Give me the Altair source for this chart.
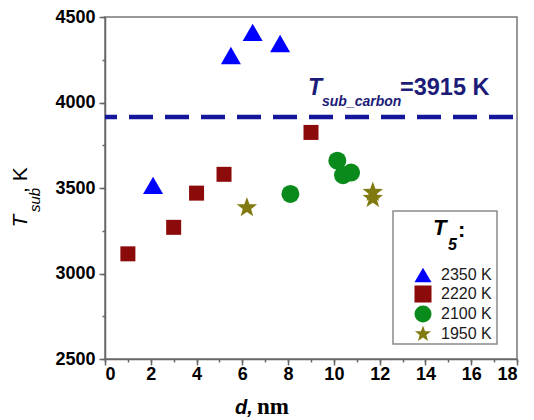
import altair as alt
import pandas as pd

# ---- data ----
series = ["2350 K", "2220 K", "2100 K", "1950 K"]
d_2350 = [2.1, 5.5, 6.45, 7.65]
T_2350 = [3515, 4275, 4410, 4345]
d_2220 = [1.0, 3.0, 4.0, 5.2, 9.0]
T_2220 = [3115, 3270, 3470, 3580, 3825]
d_2100 = [8.1, 10.15, 10.4, 10.75]
T_2100 = [3465, 3660, 3575, 3590]
d_1950 = [6.2, 11.7, 11.7]
T_1950 = [3385, 3475, 3440]
carbon_T = [3915]

x_ticks = [0, 2, 4, 6, 8, 10, 12, 14, 16, 18]
x_minor = list(range(0, 19))
y_ticks = [2500, 3000, 3500, 4000, 4500]
y_minor = [2500, 2750, 3000, 3250, 3500, 3750, 4000, 4250, 4500]

STAR = ("M0,-1L0.24,-0.33L0.951,-0.309L0.39,0.13L0.588,0.809L0,0.41"
        "L-0.588,0.809L-0.39,0.13L-0.951,-0.309L-0.24,-0.33Z")
colors = ["#0000ff", "#8b0a0a", "#0a8a1a", "#807a10"]
shapes = ["triangle-up", "square", "circle", STAR]
sizes = [400, 225, 324, 460]

annot_T = ["T"]
annot_sub = ["sub_carbon"]
annot_val = ["=3915 K"]
ytitle_parts = ["T", "sub", ", K"]
xtitle_parts = ["d,", "nm"]
legend_title_parts = ["T", "5", ":"]

rows = []
for name, ds, ts in [("2350 K", d_2350, T_2350), ("2220 K", d_2220, T_2220),
                     ("2100 K", d_2100, T_2100), ("1950 K", d_1950, T_1950)]:
    for d, t in zip(ds, ts):
        rows.append({"d": d, "T": t, "series": name})
df = pd.DataFrame(rows)
df["sz"] = df["series"].map(dict(zip(series, sizes)))

xscale = alt.Scale(domain=[0, 18], nice=False, zero=False)
yscale = alt.Scale(domain=[2500, 4500], nice=False, zero=False)

legend = alt.Legend(title=None, orient="none", legendX=309, legendY=249,
                    labelFontSize=16, labelFont="Liberation Sans", labelFontWeight="normal",
                    labelColor="#1a1a1a", symbolSize=290, rowPadding=2, padding=0,
                    symbolStrokeWidth=0, labelOffset=9)

points = alt.Chart(df).mark_point(filled=True, opacity=1, strokeWidth=0).encode(
    x=alt.X("d:Q", scale=xscale,
            axis=alt.Axis(values=x_ticks, title=None, orient="bottom", tickSize=6,
                          labelPadding=0, format="d")),
    y=alt.Y("T:Q", scale=yscale,
            axis=alt.Axis(values=y_ticks, title=None, orient="left", tickSize=6,
                          labelPadding=4, format="d")),
    color=alt.Color("series:N", scale=alt.Scale(domain=series, range=colors), legend=legend),
    shape=alt.Shape("series:N", scale=alt.Scale(domain=series, range=shapes), legend=legend),
    size=alt.Size("sz:Q", scale=None, legend=None),
)

minor = alt.Chart(df).mark_point(opacity=0).encode(
    x=alt.X("d:Q", scale=xscale,
            axis=alt.Axis(values=x_minor, title=None, orient="bottom", labels=False,
                          domain=False, tickSize=3)),
    y=alt.Y("T:Q", scale=yscale,
            axis=alt.Axis(values=y_minor, title=None, orient="left", labels=False,
                          domain=False, tickSize=3)),
)

rule = alt.Chart(pd.DataFrame({"T": carbon_T})).mark_rule(
    color="#16169a", strokeWidth=4.5, strokeDash=[24, 12], strokeDashOffset=-4
).encode(y=alt.Y("T:Q", scale=yscale, axis=None))


def txt(s, x, y, **kw):
    return alt.Chart(pd.DataFrame({"t": [s]})).mark_text(**kw).encode(
        text="t:N", x=alt.value(x), y=alt.value(y))


navy = "#1c1c78"
annot = [
    txt(annot_T[0], 203, 78, font="Liberation Sans", fontSize=23, fontWeight="bold",
        fontStyle="italic", color=navy, align="left", baseline="alphabetic"),
    txt(annot_sub[0], 217, 89, font="Liberation Sans", fontSize=14, fontWeight="bold",
        fontStyle="italic", color=navy, align="left", baseline="alphabetic"),
    txt(annot_val[0], 295, 78, font="Liberation Sans", fontSize=23.5, fontWeight="bold",
        color=navy, align="left", baseline="alphabetic"),
]

ytitle = [
    txt(ytitle_parts[0], -78, 204, font="Liberation Sans", fontSize=21, fontStyle="italic",
        color="black", align="center", baseline="alphabetic", angle=270),
    txt(ytitle_parts[1], -65, 183, font="Liberation Sans", fontSize=15, fontStyle="italic",
        color="black", align="center", baseline="alphabetic", angle=270),
    txt(ytitle_parts[2], -78, 176, font="Liberation Sans", fontSize=21,
        color="black", align="left", baseline="alphabetic", angle=270),
]

xtitle = [
    txt(xtitle_parts[0], 130, 397, font="Liberation Sans", fontSize=20, fontStyle="italic",
        fontWeight="bold", color="black", align="left", baseline="alphabetic"),
    txt(xtitle_parts[1], 152, 397, font="Liberation Serif", fontSize=23,
        fontWeight="bold", color="black", align="left", baseline="alphabetic"),
]

box = alt.Chart(pd.DataFrame({"b": [0]})).mark_rect(
    fill="white", fillOpacity=0, stroke="#8a8a8a", strokeWidth=1.5
).encode(x=alt.value(288), x2=alt.value(392), y=alt.value(194), y2=alt.value(327))

ltitle = [
    txt(legend_title_parts[0], 328, 218, font="Liberation Sans", fontSize=22, fontWeight="bold",
        fontStyle="italic", color="black", align="left", baseline="alphabetic"),
    txt(legend_title_parts[1], 343, 233, font="Liberation Sans", fontSize=16, fontWeight="bold",
        fontStyle="italic", color="black", align="left", baseline="alphabetic"),
    txt(legend_title_parts[2], 353, 220, font="Liberation Sans", fontSize=22, fontWeight="bold",
        color="black", align="left", baseline="alphabetic"),
]

chart = alt.layer(points, minor, rule, box, *annot, *ytitle, *xtitle, *ltitle).resolve_axis(
    x="independent", y="independent"
).properties(
    width=412, height=342,
    autosize=alt.AutoSizeParams(type="none"),
    padding={"left": 97, "top": 9, "right": 8, "bottom": 60},
).configure_view(
    stroke="#777777", strokeWidth=1.5
).configure_axis(
    domainColor="#666666", domainWidth=1.5, tickColor="#666666", tickWidth=1.5,
    labelFont="Liberation Sans", labelFontWeight="bold", labelFontSize=18,
    labelColor="black", grid=False
)

chart.save("out.html", embed_options={"renderer": "svg", "actions": False})
